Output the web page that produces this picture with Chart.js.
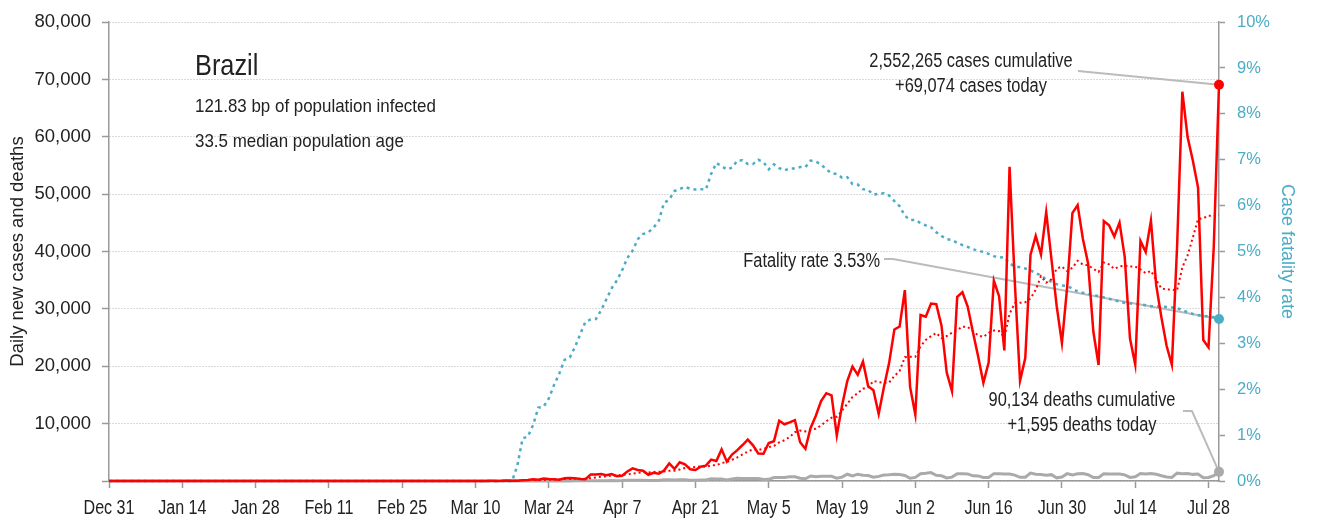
<!DOCTYPE html>
<html>
<head>
<meta charset="utf-8">
<title>Brazil</title>
<script src="https://cdn.jsdelivr.net/npm/chart.js@4.4.1/dist/chart.umd.min.js"></script>
<style>
  html, body { margin: 0; padding: 0; background: #fff; }
  #wrap { width: 1317px; height: 520px; }
</style>
</head>
<body>
<div id="wrap"><canvas id="brazilChart" width="1317" height="520"></canvas></div>
<script>
// x axis is the day number counted from Dec 31, 2019
const tickDays = [0, 14, 28, 42, 56, 70, 84, 98, 112, 126, 140, 154, 168, 182, 196, 210];
const tickLabels = ['Dec 31', 'Jan 14', 'Jan 28', 'Feb 11', 'Feb 25', 'Mar 10', 'Mar 24', 'Apr 7',
  'Apr 21', 'May 5', 'May 19', 'Jun 2', 'Jun 16', 'Jun 30', 'Jul 14', 'Jul 28'];
const lastDay = 212;  // Jul 30
const firstDay = 58;  // Feb 27, all series are zero before this day

// one value per day from Feb 27 to Jul 30
const dailyCases = [
  1, 0, 0, 1,
  0, 0, 0, 1, 5, 5, 6, 6, 0, 9, 18, 25, 21, 23, 79, 34, 57, 137, 193, 283, 224, 418, 345, 310, 232, 482, 502, 487, 352, 323, 1138,
  1119, 1208, 1012, 1222, 852, 926, 1661, 2210, 1930, 1781, 1089, 1442, 1261, 1832, 3058, 2105, 3257, 2917, 2055, 1927,
  2498, 2678, 3735, 3503, 5514, 3379, 4613, 5385, 6276, 7218,
  6209, 4807, 4751, 6633, 6935, 10503, 9888, 10222, 10611, 6760, 5632, 9258, 11385, 13944, 15305, 14919, 7938, 13140,
  17408, 19951, 18508, 20803, 16508, 15813, 11687, 16324, 20599, 26417, 26928, 33274, 16409,
  11598, 28936, 28633, 30925, 30830, 27075, 18912, 15654, 32091, 32913, 30412, 25982, 21704, 17110, 20647, 34918,
  32188, 22765, 54771, 34666, 17459, 21432, 39436, 42725, 39483, 46860, 38693, 30476, 24052, 33846,
  46712, 48105, 42223, 37923, 26051, 20229, 45305, 44571, 42619, 45048, 39023, 24831, 20286, 41857, 39924, 45403,
  34177, 28532, 23529, 20257, 41008, 67860, 59961, 55891, 51147, 24578, 23284, 40816, 69074
];

const weeklyAvg = [
  0, 0, 0, 0,
  0, 0, 0, 0, 1, 2, 2, 3, 3, 5, 7, 10, 12, 15, 25, 30, 37, 54, 78, 115, 144, 192, 237, 273, 286, 328, 359, 397, 387, 384, 502,
  629, 733, 806, 911, 982, 1068, 1143, 1299, 1402, 1512, 1493, 1577, 1625, 1649, 1770, 1795, 2006, 2267, 2355, 2450,
  2545, 2491, 2724, 2759, 3130, 3319, 3703, 4115, 4629, 5127,
  5513, 5412, 5608, 5897, 6118, 6722, 7104, 7677, 8506, 8793, 8650, 8982, 9108, 9687, 10414, 11029, 11197, 12270,
  13434, 14658, 15310, 16095, 16322, 17447, 17240, 17085, 17177, 18307, 19182, 21577, 21663,
  21650, 23452, 24599, 25243, 25801, 24915, 25273, 25852, 26303, 26914, 26841, 26148, 25381, 25124, 25837, 26241,
  26137, 25045, 29158, 31009, 31059, 31171, 31817, 33322, 35710, 34580, 35155, 37015, 37389, 36591,
  37160, 38392, 37730, 37620, 36987, 36441, 38078, 37772, 36989, 37392, 37549, 37375, 37383, 36891, 36227, 36625,
  35072, 33573, 33387, 33383, 33261, 37252, 39332, 42434, 45665, 45815, 46247, 46220, 46393
];

const dailyDeaths = [
  0, 0, 0, 0,
  0, 0, 0, 0, 0, 0, 0, 0, 0, 0, 0, 0, 0, 0, 0, 0, 1, 3, 2, 5, 7, 7, 9, 12, 11, 20, 15, 22, 22, 23, 42,
  40, 58, 60, 73, 54, 67, 114, 133, 141, 115, 68, 99, 105, 204, 204, 188, 217, 206, 115, 113, 166, 165, 407, 357, 346,
  189, 338, 474, 449, 435,
  428, 421, 275, 296, 600, 615, 610, 751, 730, 496, 396, 881, 749, 844, 824, 816, 485, 674, 1179, 888, 1188, 1001,
  965, 653, 807, 1039, 1086, 1156, 1124, 956, 480,
  623, 1262, 1349, 1473, 1005, 904, 525, 679, 1272, 1274, 1239, 909, 892, 612, 627, 1282, 1269, 1238, 1206, 1022,
  641, 654, 1374, 1185, 1141, 990, 1109, 552, 692, 1280,
  1038, 1252, 1290, 1091, 602, 620, 1254, 1223, 1220, 1214, 1071, 631, 733, 1300, 1233, 1322, 1163, 921, 716, 632,
  1367, 1284, 1311, 1156, 1211, 555, 614, 921, 1595
];

// case fatality rate in percent
const fatalityRate = [
  0, 0, 0, 0,
  0, 0, 0, 0, 0, 0, 0, 0, 0, 0, 0, 0, 0, 0, 0, 0, 0.34, 0.93, 0.97, 1.22, 1.60, 1.62, 1.80, 2.09, 2.34, 2.64, 2.69,
  2.92, 3.20, 3.47, 3.52,
  3.53, 3.72, 3.96, 4.20, 4.37, 4.59, 4.86, 5.02, 5.27, 5.38, 5.42, 5.52, 5.67, 6.06, 6.13, 6.32, 6.36, 6.41, 6.37,
  6.35, 6.36, 6.35, 6.69, 6.93, 6.86, 6.79, 6.83, 6.98, 6.99, 6.91,
  6.91, 7.00, 6.95, 6.79, 6.90, 6.82, 6.77, 6.81, 6.81, 6.84, 6.84, 6.98, 6.96, 6.90, 6.79, 6.71, 6.69, 6.61, 6.62,
  6.47, 6.46, 6.36, 6.34, 6.24, 6.26, 6.27, 6.22, 6.10, 5.99, 5.78, 5.69,
  5.69, 5.62, 5.57, 5.53, 5.42, 5.34, 5.27, 5.25, 5.19, 5.14, 5.10, 5.05, 5.02, 4.99, 4.95, 4.90, 4.87, 4.88, 4.74,
  4.68, 4.66, 4.63, 4.59, 4.53, 4.48, 4.39, 4.34, 4.29, 4.26, 4.25,
  4.19, 4.13, 4.10, 4.08, 4.05, 4.03, 4.00, 3.97, 3.94, 3.91, 3.88, 3.87, 3.86, 3.85, 3.83, 3.81, 3.80, 3.80, 3.79,
  3.78, 3.77, 3.72, 3.68, 3.64, 3.61, 3.60, 3.59, 3.57, 3.53
];

const FONT = "'Liberation Sans', Arial, sans-serif";
const RED = '#ff0000';
const BLUE = '#4bacc6';
const GREY = '#aaaaaa';
const AXIS = '#999999';
const INK = '#222222';

function toPoints(values) {
  return [{ x: 0, y: 0 }].concat(values.map((v, i) => ({ x: firstDay + i, y: v })));
}
const endDot = (ctx) => (ctx.dataIndex === ctx.dataset.data.length - 1 ? 5 : 0);
const lastOf = (arr) => arr[arr.length - 1];

// the reference type is a condensed face, so squeeze the text horizontally
function squeezedText(ctx, text, x, y, size, squeeze, align) {
  ctx.save();
  ctx.font = size + 'px ' + FONT;
  ctx.textAlign = align;
  ctx.textBaseline = 'alphabetic';
  ctx.fillStyle = INK;
  ctx.translate(x, y);
  ctx.scale(squeeze, 1);
  ctx.fillText(text, 0, 0);
  ctx.restore();
}

// annotations, date labels and the country header
const notesPlugin = {
  id: 'notes',
  beforeDatasetsDraw(chart) {
    const { ctx, scales } = chart;
    const xEnd = scales.x.getPixelForValue(lastDay);
    const yCases = scales.y.getPixelForValue(lastOf(dailyCases));
    const yRate = scales.y1.getPixelForValue(lastOf(fatalityRate));
    const yDeaths = scales.y.getPixelForValue(lastOf(dailyDeaths));
    ctx.save();
    ctx.strokeStyle = '#bbbbbb';
    ctx.lineWidth = 2;
    ctx.beginPath();
    ctx.moveTo(1078, 71); ctx.lineTo(xEnd, yCases);
    ctx.moveTo(884, 259); ctx.lineTo(893, 259); ctx.lineTo(xEnd, yRate);
    ctx.moveTo(1183, 411); ctx.lineTo(1192, 411); ctx.lineTo(xEnd, yDeaths);
    ctx.stroke();
    ctx.restore();
  },
  afterDraw(chart) {
    const { ctx, scales } = chart;
    tickDays.forEach((d, i) => {
      squeezedText(ctx, tickLabels[i], scales.x.getPixelForValue(d), 514, 19.5, 0.825, 'center');
    });

    squeezedText(ctx, 'Brazil', 195, 75, 30, 0.845, 'left');
    squeezedText(ctx, '121.83 bp of population infected', 195, 112, 18.6, 0.91, 'left');
    squeezedText(ctx, '33.5 median population age', 195, 147, 18.6, 0.91, 'left');

    squeezedText(ctx, '2,552,265 cases cumulative', 971, 67, 20, 0.82, 'center');
    squeezedText(ctx, '+' + lastOf(dailyCases).toLocaleString('en-US') + ' cases today', 971, 92, 20, 0.82, 'center');
    squeezedText(ctx, '90,134 deaths cumulative', 1082, 406, 20, 0.82, 'center');
    squeezedText(ctx, '+' + lastOf(dailyDeaths).toLocaleString('en-US') + ' deaths today', 1082, 431, 20, 0.82, 'center');
    squeezedText(ctx, 'Fatality rate ' + lastOf(fatalityRate).toFixed(2) + '%', 880, 267, 20, 0.82, 'right');
  }
};

const data = {
  datasets: [
    {
      label: 'Daily new cases',
      data: toPoints(dailyCases),
      yAxisID: 'y',
      borderColor: RED,
      backgroundColor: RED,
      borderWidth: 2.5,
      pointRadius: endDot,
      pointBorderWidth: 0,
      clip: false
    },
    {
      label: '7-day average',
      data: toPoints(weeklyAvg),
      yAxisID: 'y',
      borderColor: RED,
      borderWidth: 2,
      borderDash: [2, 3],
      pointRadius: 0
    },
    {
      label: 'Case fatality rate',
      data: toPoints(fatalityRate),
      yAxisID: 'y1',
      borderColor: BLUE,
      backgroundColor: BLUE,
      borderWidth: 2.5,
      borderDash: [3, 4],
      pointRadius: endDot,
      pointBorderWidth: 0,
      clip: false
    },
    {
      label: 'Daily deaths',
      data: toPoints(dailyDeaths),
      yAxisID: 'y',
      borderColor: GREY,
      backgroundColor: GREY,
      borderWidth: 3,
      pointRadius: endDot,
      pointBorderWidth: 0,
      clip: false
    }
  ]
};

const config = {
  type: 'line',
  data: data,
  options: {
    responsive: false,
    animation: false,
    events: [],
    layout: { padding: { top: 19, right: 0, bottom: 0, left: 0 } },
    elements: { line: { tension: 0 } },
    plugins: {
      legend: { display: false },
      tooltip: { enabled: false }
    },
    scales: {
      x: {
        type: 'linear',
        min: 0,
        max: lastDay,
        afterBuildTicks: (scale) => { scale.ticks = tickDays.map((v) => ({ value: v })); },
        afterFit: (scale) => { scale.height = 39; },
        ticks: { display: false },   // drawn condensed by the notes plugin
        grid: { drawOnChartArea: false, tickLength: 7, tickColor: AXIS, tickWidth: 1.5 },
        border: { color: AXIS, width: 1.5 }
      },
      y: {
        position: 'left',
        min: 0,
        max: 80000,
        afterFit: (scale) => { scale.width = 109; },
        ticks: {
          stepSize: 10000,
          padding: 11,
          color: INK,
          font: { family: FONT, size: 18.5 },
          callback: (v) => (v === 0 ? '' : v.toLocaleString('en-US'))
        },
        grid: { color: '#b4b4b4', lineWidth: 1, tickLength: 7, tickColor: AXIS, tickWidth: 1.5 },
        border: { color: AXIS, width: 1.5, dash: [1, 2] },
        title: {
          display: true,
          text: 'Daily new cases and deaths',
          color: INK,
          font: { family: FONT, size: 18.5 },
          padding: { top: 7 }
        }
      },
      y1: {
        position: 'right',
        min: 0,
        max: 10,
        afterFit: (scale) => { scale.width = 98; },
        ticks: {
          stepSize: 1,
          padding: 12,
          color: BLUE,
          font: { family: FONT, size: 16.5 },
          callback: (v) => v + '%'
        },
        grid: { drawOnChartArea: false, tickLength: 6, tickColor: AXIS, tickWidth: 1.5 },
        border: { color: AXIS, width: 1.5 },
        title: {
          display: true,
          text: 'Case fatality rate',
          color: BLUE,
          font: { family: FONT, size: 18 },
          padding: { top: 19 }
        }
      }
    }
  },
  plugins: [notesPlugin]
};

const brazilChart = new Chart(document.getElementById('brazilChart'), config);
</script>
</body>
</html>
